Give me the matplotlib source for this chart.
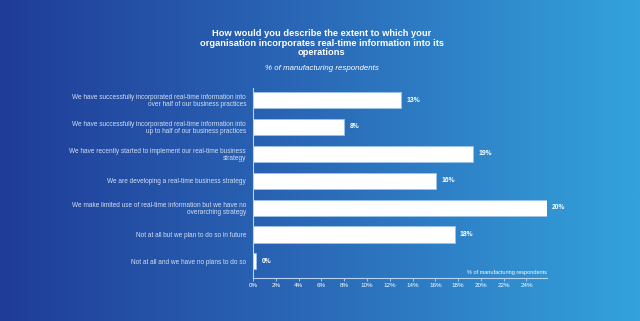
import numpy as np
import matplotlib.pyplot as plt
from matplotlib.colors import LinearSegmentedColormap

plt.rcParams['font.family'] = ['Liberation Sans', 'DejaVu Sans']

## DATA
categories = [
    "We have successfully incorporated real-time information into\nover half of our business practices",
    "We have successfully incorporated real-time information into\nup to half of our business practices",
    "We have recently started to implement our real-time business\nstrategy",
    "We are developing a real-time business strategy",
    "We make limited use of real-time information but we have no\noverarching strategy",
    "Not at all but we plan to do so in future",
    "Not at all and we have no plans to do so",
]
values = [13, 8, 19.3, 16.1, 25.8, 17.7, 0.3]   # bar lengths as drawn
value_labels = ["13%", "8%", "19%", "16%", "20%", "18%", "0%"]
ticks = [0, 2, 4, 6, 8, 10, 12, 14, 16, 18, 20, 22, 24]

## FIGURE + GRADIENT BACKGROUND
fig = plt.figure(figsize=(6.4, 3.21), dpi=100)
bg = fig.add_axes([0, 0, 1, 1])
cmap = LinearSegmentedColormap.from_list("bg", ["#1f3c98", "#2b6ab8", "#33a3dc"])
bg.imshow(np.linspace(0, 1, 256).reshape(1, -1), aspect="auto", cmap=cmap, extent=[0, 1, 0, 1])
bg.axis("off")

## TITLE
fig.text(0.503, 1 - 43/321, "How would you describe the extent to which your\norganisation incorporates real-time information into its\noperations",
         ha="center", va="center", color="white", fontsize=6.7, fontweight="bold", linespacing=1.05)
fig.text(0.503, 1 - 68/321, "% of manufacturing respondents", ha="center", va="center",
         color="white", fontsize=5.7, style="italic")

## BARS
ax = fig.add_axes([253/640, 1 - 278/321, (547 - 253)/640, (278 - 88)/321])
ax.patch.set_alpha(0)
y = np.arange(len(categories))
ax.barh(y, values, height=0.6, color="white", edgecolor="#9cc4ea", linewidth=0.6)
for yi, v, lab in zip(y, values, value_labels):
    ax.text(v + 0.45, yi, lab, va="center", ha="left", color="white", fontsize=4.9, fontweight="bold")

ax.set_ylim(len(categories) - 0.38, -0.45)
ax.set_xlim(0, 25.8)
ax.set_yticks(y)
ax.set_yticklabels(categories, color="#d3e0f4", fontsize=4.7, linespacing=1.0)
ax.set_xticks(ticks)
ax.set_xticklabels([f"{t}%" for t in ticks], color="white", fontsize=4.5)
ax.tick_params(axis="y", length=0, pad=5)
ax.tick_params(axis="x", length=2, width=0.6, color="#b8d4f0", pad=1.5)

for s in ["top", "right"]:
    ax.spines[s].set_visible(False)
ax.spines["left"].set_color("#b8d4f0")
ax.spines["bottom"].set_color("#b8d4f0")
ax.spines["left"].set_linewidth(0.8)
ax.spines["bottom"].set_linewidth(0.8)

ax.text(1.0, 0.015, "% of manufacturing respondents", transform=ax.transAxes,
        ha="right", va="bottom", color="white", fontsize=4.0)

fig.savefig("out.png", dpi=100)
